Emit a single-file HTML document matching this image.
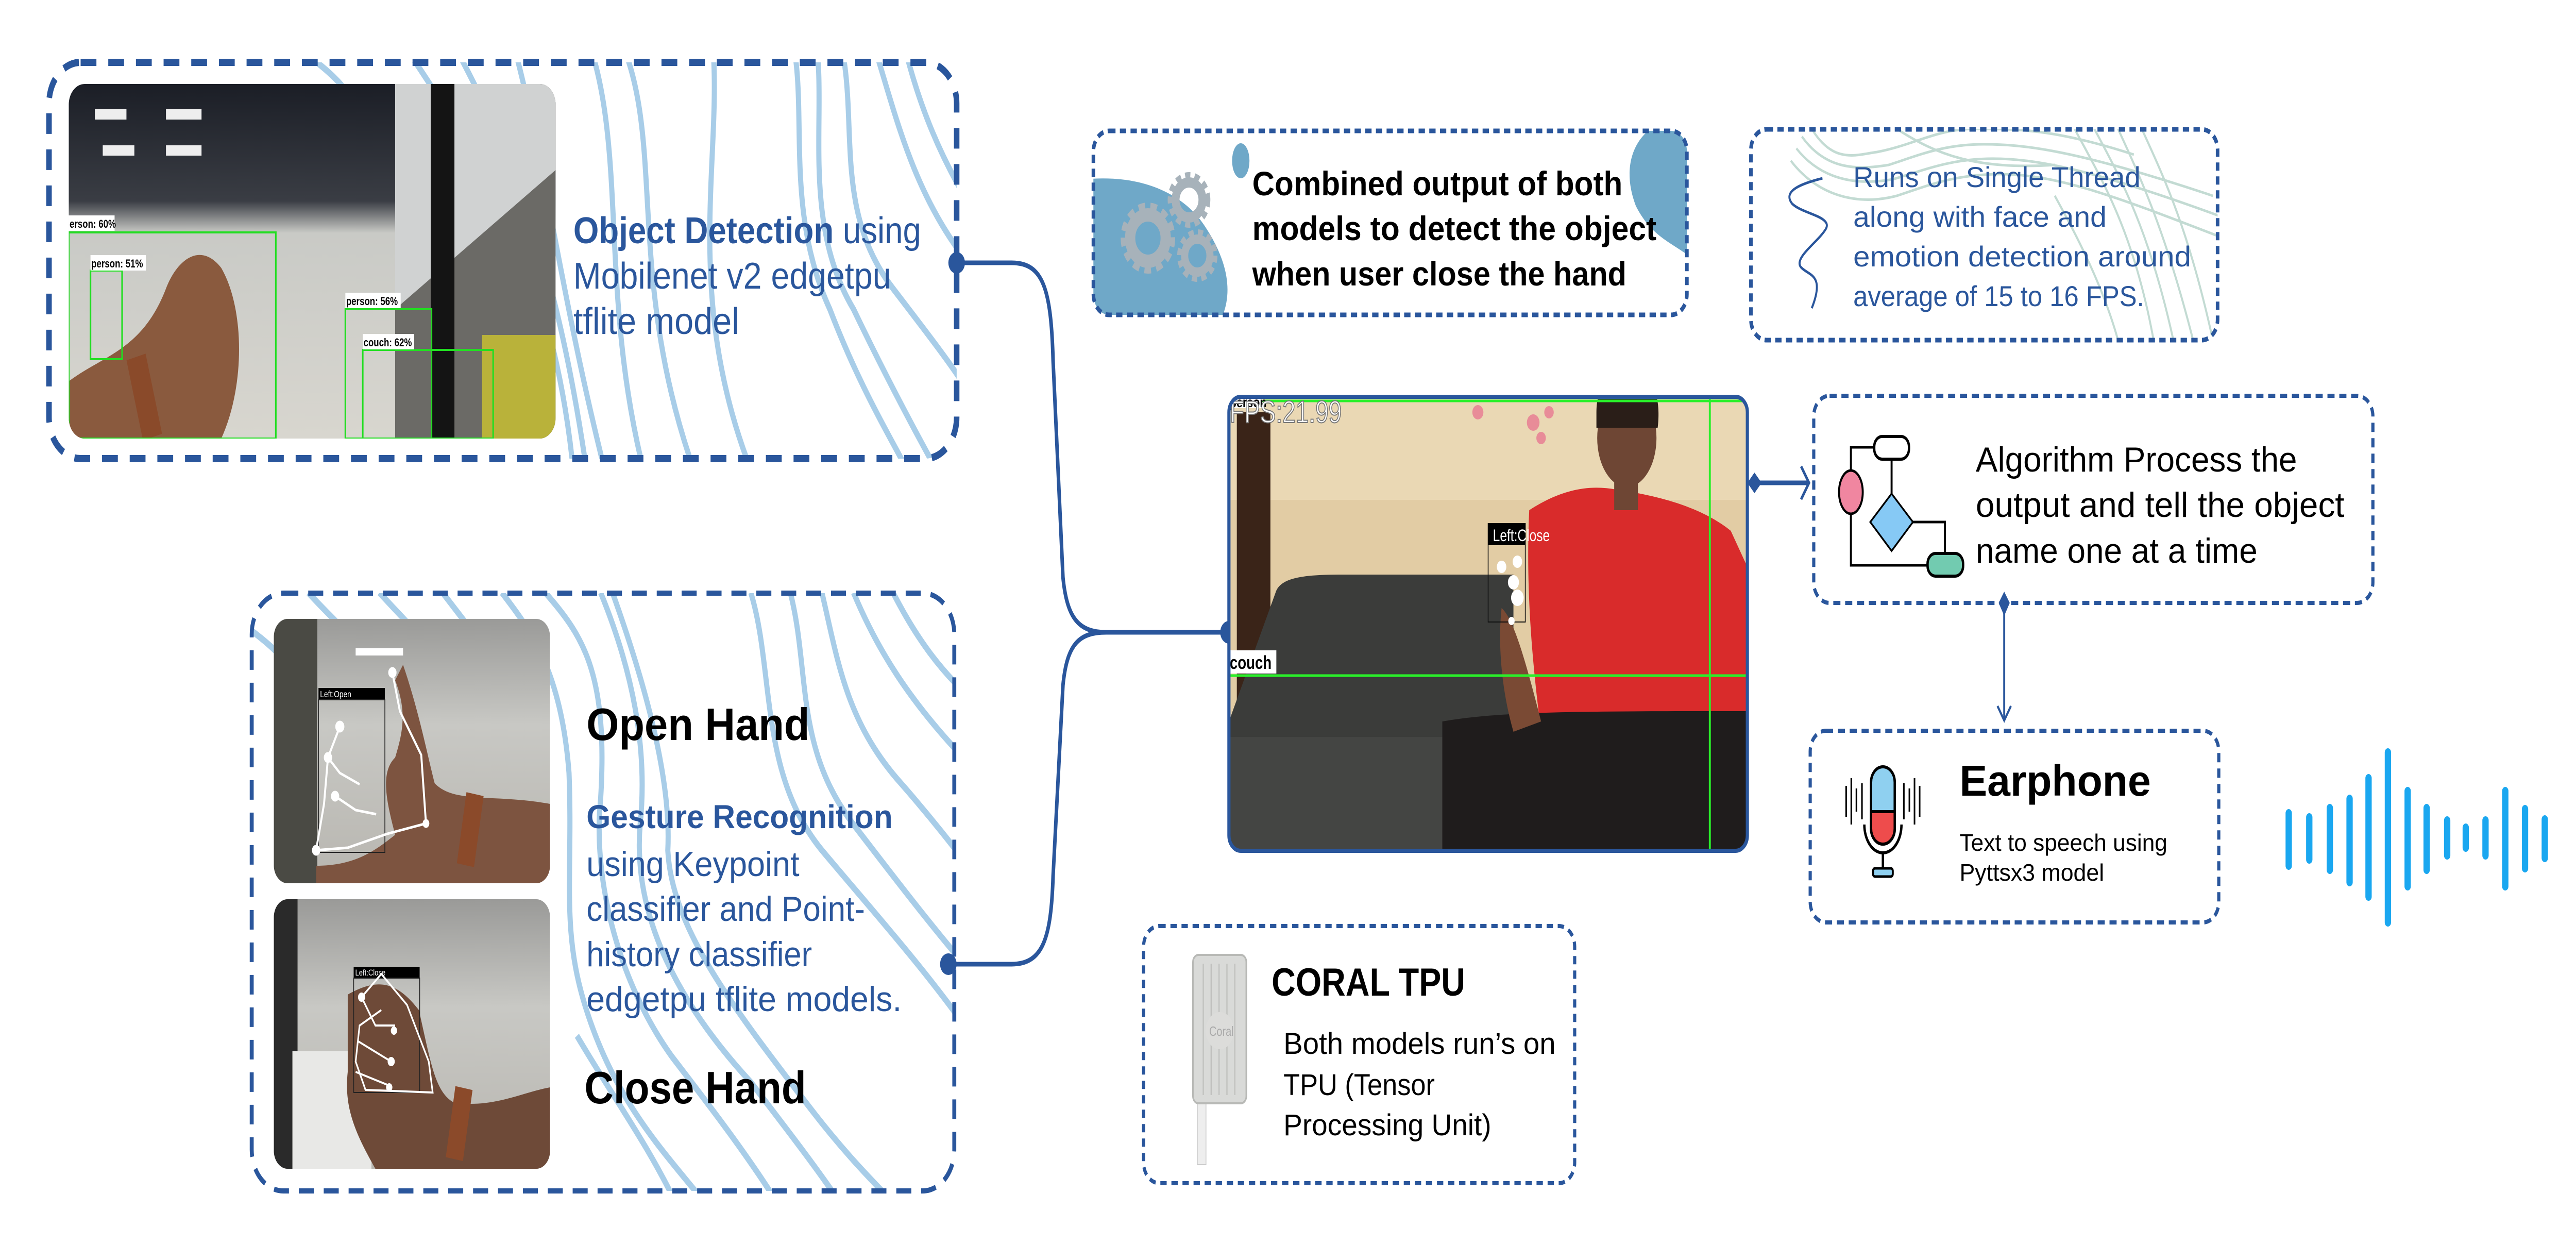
<!DOCTYPE html>
<html><head><meta charset="utf-8">
<style>
html,body{margin:0;padding:0;background:#fff;width:100%;height:100%;overflow:hidden;}
svg{display:block;width:100vw;height:100vh;}
text{font-family:"Liberation Sans",sans-serif;}
</style></head><body>
<svg viewBox="0 0 6519 2414" preserveAspectRatio="none" xmlns="http://www.w3.org/2000/svg">
<defs>
<clipPath id="c1"><rect x="124" y="121" width="2297" height="769" rx="80"/></clipPath>
<clipPath id="c2"><rect x="637" y="1151" width="1778" height="1160" rx="80"/></clipPath>
<clipPath id="cp1"><rect x="174" y="163" width="1232" height="688" rx="40"/></clipPath>
<clipPath id="cc"><rect x="2767" y="254" width="1502" height="357" rx="40"/></clipPath>
<clipPath id="cr"><rect x="4431" y="251" width="1181" height="409" rx="40"/></clipPath>
<clipPath id="cm"><rect x="3110" y="770" width="1312" height="881" rx="30"/></clipPath>
<clipPath id="ch1"><rect x="693" y="1201" width="699" height="513" rx="35"/></clipPath>
<clipPath id="ch2"><rect x="693" y="1745" width="699" height="523" rx="35"/></clipPath>
<linearGradient id="g1" x1="0" y1="0" x2="0" y2="1"><stop offset="0" stop-color="#1b1e26"/><stop offset="0.33" stop-color="#3a3d44"/><stop offset="0.42" stop-color="#c9cac6"/><stop offset="1" stop-color="#d8d6cf"/></linearGradient>
<linearGradient id="gh" x1="0" y1="0" x2="0" y2="1"><stop offset="0" stop-color="#9a9a98"/><stop offset="0.4" stop-color="#c8c8c4"/><stop offset="1" stop-color="#b8b6b0"/></linearGradient>
</defs>

<g clip-path="url(#c1)" fill="none" stroke="#a8cde8" stroke-width="13">
<path d="M1000 60 C1200 300 1420 500 1460 1000"/>
<path d="M1130 60 C1300 300 1420 520 1500 1000"/>
<path d="M1290 60 C1380 300 1420 600 1560 1000"/>
<path d="M1480 60 C1600 300 1500 600 1660 1000"/>
<path d="M1560 60 C1700 280 1560 560 1800 1000"/>
<path d="M2000 60 C2050 200 1980 400 2100 600 C2200 800 2300 900 2350 1000"/>
<path d="M2060 60 C2100 200 2020 420 2160 600 C2260 760 2360 900 2420 980"/>
<path d="M2120 60 C2180 220 2100 400 2260 560 C2350 650 2420 720 2450 760"/>
<path d="M2200 60 C2260 200 2300 360 2440 500"/>
<path d="M2280 60 C2320 200 2380 300 2440 380"/>
<path d="M1800 60 C1840 300 1700 600 1950 1000"/>
<path d="M700 60 C800 120 840 140 880 180"/>
</g>
<g clip-path="url(#cp1)">
<rect x="174" y="163" width="1232" height="688" fill="url(#g1)"/>
<rect x="240" y="212" width="80" height="20" fill="#eee"/><rect x="420" y="212" width="90" height="20" fill="#eee"/>
<rect x="260" y="282" width="80" height="20" fill="#eee"/><rect x="420" y="282" width="90" height="20" fill="#eee"/>
<rect x="1000" y="163" width="406" height="688" fill="#6b6a66"/>
<path d="M1000 163 L1406 163 L1406 330 L1000 600 Z" fill="#d0d2d2"/>
<rect x="1090" y="163" width="60" height="688" fill="#141414"/>
<rect x="1220" y="650" width="186" height="201" fill="#b9b23a"/>
<path d="M174 740 C260 690 360 680 420 560 C450 500 510 470 560 520 C620 600 620 750 560 851 L174 851 Z" fill="#8a5a3e"/>
<rect x="340" y="690" width="50" height="161" fill="#8a4a2a" transform="rotate(-15 365 770)"/>
<g fill="none" stroke="#22dd22" stroke-width="4">
<rect x="174" y="451" width="524" height="400"/>
<rect x="229" y="525" width="80" height="172"/>
<rect x="874" y="600" width="218" height="251"/>
<rect x="918" y="679" width="330" height="172"/>
</g>
<g font-size="22" font-weight="bold" fill="#000">
<rect x="174" y="418" width="116" height="30" fill="#fff"/><text x="176" y="442" fill="#000">erson: 60%</text>
<rect x="229" y="495" width="140" height="30" fill="#fff"/><text x="231" y="519" fill="#000">person: 51%</text>
<rect x="874" y="568" width="140" height="30" fill="#fff"/><text x="876" y="592" fill="#000">person: 56%</text>
<rect x="918" y="648" width="130" height="30" fill="#fff"/><text x="920" y="672" fill="#000">couch: 62%</text>
</g>
</g>
<rect x="124" y="121" width="2297" height="769" rx="80" fill="none" stroke="#2a569c" stroke-width="14" stroke-dasharray="40 30"/>
<text x="1451" y="472" font-size="72" fill="#2a569c" textLength="880" lengthAdjust="spacingAndGlyphs"><tspan font-weight="bold">Object Detection</tspan> using</text>
<text x="1451" y="560" font-size="72" fill="#2a569c" textLength="804" lengthAdjust="spacingAndGlyphs">Mobilenet v2 edgetpu</text>
<text x="1451" y="648" font-size="72" fill="#2a569c" textLength="420" lengthAdjust="spacingAndGlyphs">tflite model</text>

<g clip-path="url(#c2)" fill="none" stroke="#a8cde8" stroke-width="13">
<path d="M630 1220 C700 1260 720 1280 760 1320"/>
<path d="M780 1150 C840 1200 860 1210 900 1250"/>
<path d="M960 1150 C1020 1200 1060 1230 1100 1270"/>
<path d="M1120 1150 C1180 1210 1230 1260 1300 1330"/>
<path d="M1270 1150 C1340 1220 1420 1300 1440 1500 C1450 1700 1420 1800 1480 1950 C1560 2150 1700 2250 1800 2350"/>
<path d="M1380 1150 C1470 1230 1540 1300 1520 1550 C1500 1700 1560 1900 1700 2050 C1800 2150 1900 2250 1980 2350"/>
<path d="M1520 1150 C1600 1300 1640 1450 1620 1600 C1600 1780 1720 1950 1900 2100 C2000 2200 2080 2280 2140 2350"/>
<path d="M1550 1150 C1620 1300 1700 1500 1690 1650 C1700 1800 1850 1950 2050 2150 C2150 2250 2220 2300 2280 2350"/>
<path d="M1900 1150 C1960 1300 1920 1500 2080 1650 C2200 1760 2340 1880 2450 2000"/>
<path d="M2000 1150 C2050 1300 2010 1450 2160 1600 C2260 1700 2360 1800 2450 1880"/>
<path d="M2080 1150 C2120 1280 2140 1400 2280 1520 C2360 1590 2420 1650 2450 1680"/>
<path d="M2160 1150 C2220 1260 2300 1360 2450 1480"/>
<path d="M2260 1150 C2320 1240 2380 1300 2450 1350"/>
<path d="M1460 2010 C1560 2140 1640 2220 1720 2350"/>
</g>
<g clip-path="url(#ch1)">
<rect x="693" y="1201" width="699" height="513" fill="url(#gh)"/>
<rect x="693" y="1201" width="110" height="513" fill="#4a4a44"/>
<rect x="900" y="1258" width="120" height="14" fill="#fff"/>
<path d="M800 1680 C900 1680 950 1650 1000 1620 C980 1560 960 1500 1000 1470 C1020 1420 1030 1380 1000 1320 L1020 1290 C1060 1380 1080 1460 1100 1520 C1150 1560 1250 1540 1392 1560 L1392 1714 L800 1714 Z" fill="#7d5440"/>
<rect x="1168" y="1540" width="44" height="140" fill="#8b4a2a" transform="rotate(10 1190 1610)"/>
<rect x="806" y="1335" width="168" height="23" fill="#000"/>
<text x="810" y="1353" font-size="18" fill="#fff">Left:Open</text>
<rect x="806" y="1358" width="168" height="296" fill="none" stroke="#222" stroke-width="2"/>
<g stroke="#fff" stroke-width="5" fill="#fff">
<polyline fill="none" points="800,1650 880,1645 980,1618 1078,1598 1066,1465 1012,1380 993,1305"/>
<polyline fill="none" points="800,1650 820,1560 830,1470 860,1410"/>
<polyline fill="none" points="848,1545 900,1572 952,1580"/>
<polyline fill="none" points="830,1470 860,1500 910,1522"/>
<circle cx="800" cy="1650" r="8"/><circle cx="993" cy="1305" r="8"/><circle cx="860" cy="1410" r="9"/><circle cx="848" cy="1545" r="8"/><circle cx="830" cy="1470" r="8"/><circle cx="1078" cy="1598" r="6"/>
</g>
</g>
<g clip-path="url(#ch2)">
<rect x="693" y="1745" width="699" height="523" fill="url(#gh)"/>
<rect x="693" y="1745" width="60" height="523" fill="#2a2a2a"/>
<rect x="740" y="2040" width="200" height="230" fill="#e8e8e6"/>
<path d="M880 1930 C950 1900 1000 1900 1060 1960 C1090 2060 1100 2120 1150 2140 C1250 2150 1320 2120 1392 2110 L1392 2268 L950 2268 C900 2200 870 2150 880 2080 Z" fill="#6e4a38"/>
<rect x="1140" y="2110" width="44" height="140" fill="#8b4a2a" transform="rotate(10 1160 2180)"/>
<rect x="895" y="1876" width="167" height="22" fill="#000"/>
<text x="899" y="1893" font-size="17" fill="#fff">Left:Close</text>
<rect x="895" y="1898" width="167" height="222" fill="none" stroke="#222" stroke-width="2"/>
<g stroke="#fff" stroke-width="4" fill="none">
<polyline points="915,1935 965,1890 1030,1950 1085,2060 1095,2120 925,2115 900,2060 910,1990 965,1960"/>
<polyline points="915,1935 950,1990 1000,1990"/>
<polyline points="905,2020 990,2060"/><polyline points="900,2080 980,2105"/>
</g>
<g fill="#fff"><circle cx="915" cy="1935" r="9"/><circle cx="990" cy="2060" r="9"/><circle cx="997" cy="2000" r="8"/><circle cx="985" cy="2110" r="8"/></g>
</g>
<rect x="637" y="1151" width="1778" height="1160" rx="80" fill="none" stroke="#2a569c" stroke-width="10" stroke-dasharray="38 25"/>
<text x="1484" y="1436" font-size="88" font-weight="bold" fill="#000" textLength="565" lengthAdjust="spacingAndGlyphs">Open Hand</text>
<text x="1484" y="1607" font-size="64" font-weight="bold" fill="#2a569c" textLength="775" lengthAdjust="spacingAndGlyphs">Gesture Recognition</text>
<text x="1484" y="1700" font-size="68" fill="#2a569c" textLength="539" lengthAdjust="spacingAndGlyphs">using Keypoint</text>
<text x="1484" y="1787" font-size="68" fill="#2a569c" textLength="705" lengthAdjust="spacingAndGlyphs">classifier and Point-</text>
<text x="1484" y="1875" font-size="68" fill="#2a569c" textLength="571" lengthAdjust="spacingAndGlyphs">history classifier</text>
<text x="1484" y="1962" font-size="68" fill="#2a569c" textLength="798" lengthAdjust="spacingAndGlyphs">edgetpu tflite models.</text>
<text x="1479" y="2141" font-size="88" font-weight="bold" fill="#000" textLength="561" lengthAdjust="spacingAndGlyphs">Close Hand</text>

<g fill="none" stroke="#2a569c" stroke-width="9">
<path d="M2421 510 H2560 C2640 510 2660 560 2665 700 L2690 1120 C2700 1200 2730 1227 2800 1227 H3107"/>
<path d="M2400 1871 H2560 C2640 1871 2660 1820 2665 1700 L2690 1330 C2700 1250 2730 1227 2800 1227"/>
</g>
<circle cx="2421" cy="510" r="21" fill="#2a569c"/>
<circle cx="2400" cy="1871" r="21" fill="#2a569c"/>
<circle cx="3110" cy="1227" r="22" fill="#2a569c"/>

<g clip-path="url(#cc)">
<path d="M2760 347 C2900 340 3000 380 3050 440 C3110 510 3120 570 3090 620 L2760 620 Z" fill="#6fa8c8"/>
<path d="M4200 240 C4140 260 4100 320 4140 400 C4180 460 4230 470 4280 500 L4280 240 Z" fill="#6fa8c8"/>
</g>
<ellipse cx="3140" cy="312" rx="22" ry="34" fill="#6fa8c8"/>
<g fill="none" stroke="#a7b2ba">
<circle cx="2905" cy="462" r="52" stroke-width="34" stroke-dasharray="14 11"/>
<circle cx="2905" cy="462" r="45" stroke-width="26"/>
<circle cx="3009" cy="388" r="40" stroke-width="28" stroke-dasharray="11 9"/>
<circle cx="3009" cy="388" r="34" stroke-width="20"/>
<circle cx="3030" cy="496" r="38" stroke-width="26" stroke-dasharray="11 9"/>
<circle cx="3030" cy="496" r="32" stroke-width="18"/>
</g>
<rect x="2767" y="254" width="1502" height="357" rx="40" fill="none" stroke="#2a569c" stroke-width="9" stroke-dasharray="16 11"/>
<text x="3169" y="379" font-size="66" font-weight="bold" fill="#000" textLength="937" lengthAdjust="spacingAndGlyphs">Combined output of both</text>
<text x="3169" y="466" font-size="66" font-weight="bold" fill="#000" textLength="1023" lengthAdjust="spacingAndGlyphs">models to detect the object</text>
<text x="3169" y="554" font-size="66" font-weight="bold" fill="#000" textLength="947" lengthAdjust="spacingAndGlyphs">when user close the hand</text>

<g clip-path="url(#cr)" fill="none" stroke="#c3dbd3" stroke-width="5">
<path d="M4585 250 C4640 320 4700 300 4750 295 C4850 280 4900 250 5000 250 C5100 250 5200 250 5400 300"/>
<path d="M4560 265 C4620 330 4700 330 4780 320 C4860 300 4920 280 5020 280 C5120 280 5250 290 5600 380"/>
<path d="M4546 288 C4610 350 4700 360 4790 348 C4870 330 4930 310 5030 308 C5150 306 5300 330 5620 420"/>
<path d="M4532 312 C4600 380 4700 400 4800 380 C4880 360 4940 340 5050 338 C5200 336 5350 380 5620 460"/>
<path d="M4800 250 C4900 300 5000 330 5200 320"/>
<path d="M5250 250 C5320 350 5400 450 5450 660"/>
<path d="M5300 250 C5370 350 5440 450 5500 660"/>
<path d="M5360 250 C5420 350 5480 450 5550 660"/>
<path d="M5420 250 C5480 350 5540 450 5600 660"/>
<path d="M5200 380 C5250 450 5320 550 5360 660"/>
</g>
<path d="M4612 346 C4560 356 4510 370 4535 395 C4560 415 4640 420 4620 445 C4600 470 4540 500 4557 518 C4575 535 4620 530 4585 598" fill="none" stroke="#2a569c" stroke-width="5"/>
<rect x="4431" y="251" width="1181" height="409" rx="40" fill="none" stroke="#2a569c" stroke-width="9" stroke-dasharray="16 11"/>
<text x="4690" y="363" font-size="56" fill="#2a569c" textLength="727" lengthAdjust="spacingAndGlyphs">Runs on Single Thread</text>
<text x="4690" y="440" font-size="56" fill="#2a569c" textLength="641" lengthAdjust="spacingAndGlyphs">along with face and</text>
<text x="4690" y="517" font-size="56" fill="#2a569c" textLength="855" lengthAdjust="spacingAndGlyphs">emotion detection around</text>
<text x="4690" y="594" font-size="56" fill="#2a569c" textLength="736" lengthAdjust="spacingAndGlyphs">average of 15 to 16 FPS.</text>

<g clip-path="url(#cm)">
<rect x="3110" y="770" width="1312" height="881" fill="#e2cca4"/>
<rect x="3110" y="770" width="1312" height="200" fill="#ead8b4"/>
<rect x="3130" y="800" width="85" height="760" fill="#3a2418"/>
<path d="M3228 1150 C3240 1120 3300 1115 3400 1115 L3830 1115 L3830 1651 L3110 1651 L3110 1400 Z" fill="#3b3c3a"/>
<rect x="3110" y="1430" width="800" height="221" fill="#444543"/>
<path d="M3870 990 C3950 950 4020 940 4090 950 C4180 960 4300 980 4380 1030 L4422 1100 L4422 1420 L3900 1420 C3880 1300 3860 1150 3870 990 Z" fill="#d92b2b"/>
<path d="M3650 1400 C3800 1380 4000 1380 4422 1380 L4422 1651 L3650 1651 Z" fill="#1f1c1c"/>
<path d="M3800 1180 C3830 1200 3860 1280 3900 1400 L3830 1420 C3800 1340 3790 1250 3800 1180 Z" fill="#7a4a34"/>
<ellipse cx="4117" cy="850" rx="75" ry="95" fill="#6e4634"/>
<path d="M4040 800 C4040 730 4100 720 4150 730 C4200 740 4200 800 4195 830 L4040 830 Z" fill="#2a1e18"/>
<rect x="4085" y="920" width="60" height="70" fill="#6e4634"/>
<g fill="#e88c98"><circle cx="3740" cy="800" r="14"/><circle cx="3880" cy="820" r="16"/><circle cx="3900" cy="850" r="12"/><circle cx="3920" cy="800" r="12"/></g>
<rect x="3766" y="1016" width="94" height="191" fill="none" stroke="#111" stroke-width="2"/>
<rect x="3766" y="1016" width="94" height="42" fill="#000"/>
<text x="3778" y="1050" font-size="32" fill="#fff">Left:Close</text>
<g fill="#fff"><circle cx="3800" cy="1100" r="12"/><circle cx="3840" cy="1090" r="12"/><circle cx="3830" cy="1130" r="14"/><circle cx="3840" cy="1160" r="16"/><circle cx="3825" cy="1205" r="8"/></g>
<g stroke="#2aef2a" stroke-width="5"><line x1="3110" y1="778" x2="4422" y2="778"/><line x1="3110" y1="1311" x2="4422" y2="1311"/><line x1="4327" y1="770" x2="4327" y2="1651"/></g>
<rect x="3110" y="770" width="85" height="22" fill="#fff"/>
<text x="3112" y="790" font-size="28" font-weight="bold" fill="#000">person</text>
<text x="3112" y="820" font-size="60" fill="#fff" stroke="#777" stroke-width="2">FPS:21.99</text>
<rect x="3110" y="1262" width="120" height="45" fill="#fff"/>
<text x="3112" y="1298" font-size="36" font-weight="bold" fill="#000">couch</text>
</g>
<rect x="3110" y="770" width="1312" height="881" rx="30" fill="none" stroke="#2a569c" stroke-width="8"/>

<path d="M4422 937 L4440 917 L4458 937 L4440 957 Z" fill="#2a569c"/>
<line x1="4440" y1="937" x2="4575" y2="937" stroke="#2a569c" stroke-width="9"/>
<polyline points="4558,905 4578,937 4558,969" fill="none" stroke="#2a569c" stroke-width="6"/>

<rect x="4590" y="768" width="1415" height="402" rx="40" fill="none" stroke="#2a569c" stroke-width="8" stroke-dasharray="18 12"/>
<g stroke="#000" stroke-width="5" fill="none">
<polyline points="4743,868 4684,868 4684,1097 4880,1097"/>
<line x1="4787" y1="892" x2="4787" y2="960"/>
<polyline points="4840,1013 4922,1013 4922,1080"/>
</g>
<rect x="4743" y="847" width="88" height="44" rx="20" fill="#fff" stroke="#000" stroke-width="6"/>
<ellipse cx="4684" cy="955" rx="30" ry="42" fill="#f086a0" stroke="#000" stroke-width="5"/>
<path d="M4787 958 L4841 1013 L4787 1069 L4733 1013 Z" fill="#86c9f5" stroke="#000" stroke-width="4"/>
<rect x="4878" y="1074" width="90" height="44" rx="20" fill="#72cbb0" stroke="#000" stroke-width="6"/>
<text x="5000" y="915" font-size="68" fill="#000" textLength="813" lengthAdjust="spacingAndGlyphs">Algorithm Process the</text>
<text x="5000" y="1003" font-size="68" fill="#000" textLength="933" lengthAdjust="spacingAndGlyphs">output and tell the object</text>
<text x="5000" y="1092" font-size="68" fill="#000" textLength="713" lengthAdjust="spacingAndGlyphs">name one at a time</text>

<path d="M5072 1148 L5086 1170 L5072 1195 L5058 1170 Z" fill="#2a569c"/>
<line x1="5072" y1="1170" x2="5072" y2="1396" stroke="#2a569c" stroke-width="5"/>
<polyline points="5055,1370 5072,1398 5089,1370" fill="none" stroke="#2a569c" stroke-width="5"/>

<rect x="4581" y="1418" width="1034" height="372" rx="40" fill="none" stroke="#2a569c" stroke-width="8" stroke-dasharray="18 12"/>
<g>
<rect x="4735" y="1488" width="60" height="150" rx="30" fill="#8fd0f0" stroke="#000" stroke-width="6"/>
<path d="M4735 1575 H4795 V1608 A30 30 0 0 1 4735 1608 Z" fill="#ee4c4c" stroke="#000" stroke-width="6"/>
<path d="M4718 1600 A47 55 0 0 0 4812 1600" fill="none" stroke="#000" stroke-width="6"/>
<line x1="4765" y1="1655" x2="4765" y2="1688" stroke="#000" stroke-width="6"/>
<rect x="4740" y="1685" width="50" height="16" rx="5" fill="#8fd0f0" stroke="#000" stroke-width="5"/>
<g stroke="#000" stroke-width="4"><line x1="4672" y1="1525" x2="4672" y2="1585"/><line x1="4685" y1="1510" x2="4685" y2="1600"/><line x1="4698" y1="1530" x2="4698" y2="1575"/><line x1="4712" y1="1520" x2="4712" y2="1590"/><line x1="4818" y1="1520" x2="4818" y2="1590"/><line x1="4832" y1="1530" x2="4832" y2="1575"/><line x1="4845" y1="1510" x2="4845" y2="1600"/><line x1="4858" y1="1525" x2="4858" y2="1585"/></g>
</g>
<text x="4959" y="1544" font-size="84" font-weight="bold" fill="#000" textLength="484" lengthAdjust="spacingAndGlyphs">Earphone</text>
<text x="4959" y="1651" font-size="46" fill="#000" textLength="526" lengthAdjust="spacingAndGlyphs">Text to speech using</text>
<text x="4959" y="1709" font-size="46" fill="#000" textLength="366" lengthAdjust="spacingAndGlyphs">Pyttsx3 model</text>

<g stroke="#1aa7f0" stroke-width="16" stroke-linecap="round">
<line x1="5792" y1="1578" x2="5792" y2="1680"/>
<line x1="5844" y1="1586" x2="5844" y2="1668"/>
<line x1="5896" y1="1568" x2="5896" y2="1688"/>
<line x1="5946" y1="1550" x2="5946" y2="1712"/>
<line x1="5994" y1="1510" x2="5994" y2="1740"/>
<line x1="6043" y1="1460" x2="6043" y2="1790"/>
<line x1="6093" y1="1535" x2="6093" y2="1720"/>
<line x1="6141" y1="1568" x2="6141" y2="1688"/>
<line x1="6193" y1="1592" x2="6193" y2="1660"/>
<line x1="6240" y1="1606" x2="6240" y2="1645"/>
<line x1="6290" y1="1592" x2="6290" y2="1660"/>
<line x1="6340" y1="1535" x2="6340" y2="1720"/>
<line x1="6390" y1="1570" x2="6390" y2="1685"/>
<line x1="6440" y1="1590" x2="6440" y2="1665"/>
</g>

<rect x="2894" y="1797" width="1091" height="499" rx="40" fill="none" stroke="#2a569c" stroke-width="8" stroke-dasharray="16 12"/>
<rect x="3030" y="2130" width="22" height="130" fill="#eee" stroke="#ccc" stroke-width="2"/>
<rect x="3019" y="1853" width="135" height="288" rx="14" fill="#d9dad8" stroke="#b8b9b6" stroke-width="4"/>
<g stroke="#bfc0bd" stroke-width="3"><line x1="3045" y1="1870" x2="3045" y2="2125"/><line x1="3065" y1="1870" x2="3065" y2="2125"/><line x1="3085" y1="1870" x2="3085" y2="2125"/><line x1="3105" y1="1870" x2="3105" y2="2125"/><line x1="3125" y1="1870" x2="3125" y2="2125"/></g>
<circle cx="3087" cy="2000" r="36" fill="#dcdcda"/>
<text x="3060" y="2010" font-size="26" fill="#aaa">Coral</text>
<text x="3218" y="1932" font-size="76" font-weight="bold" fill="#000" textLength="490" lengthAdjust="spacingAndGlyphs">CORAL TPU</text>
<text x="3248" y="2045" font-size="58" fill="#000" textLength="689" lengthAdjust="spacingAndGlyphs">Both models run’s on</text>
<text x="3248" y="2125" font-size="58" fill="#000" textLength="383" lengthAdjust="spacingAndGlyphs">TPU (Tensor</text>
<text x="3248" y="2203" font-size="58" fill="#000" textLength="526" lengthAdjust="spacingAndGlyphs">Processing Unit)</text>
</svg>
</body></html>
